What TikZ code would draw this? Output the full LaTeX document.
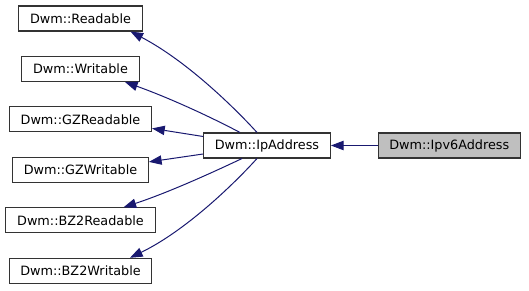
\documentclass[tikz,border=0pt]{standalone}
\usepackage{fontspec}
\setmainfont{DejaVu Sans}
\usetikzlibrary{arrows.meta, positioning, calc}
\definecolor{edgeblue}{HTML}{191970}
\definecolor{basegray}{HTML}{BFBFBF}

\begin{document}
\begin{tikzpicture}[
    x=0.75pt, y=-0.75pt,
    node distance=18.3pt,
    cls/.style={rectangle, draw=black!80, line width=0.8pt, inner xsep=8.4pt, inner ysep=0pt, minimum height=18.75pt, fill=white, font=\fontsize{9.6}{11}\selectfont},
    arrow/.style={-{Triangle[length=9.5pt, width=7pt]}, color=edgeblue, line width=0.75pt}
]
    \useasboundingbox (0,0) rectangle (529,291);

    % base classes
    \node[cls] (readable) at (80.5,18.5) {Dwm::Readable};
    \node[cls, below=of readable] (writable) {Dwm::Writable};
    \node[cls, below=of writable] (gzreadable) {Dwm::GZReadable};
    \node[cls, below=of gzreadable] (gzwritable) {Dwm::GZWritable};
    \node[cls, below=of gzwritable] (bz2readable) {Dwm::BZ2Readable};
    \node[cls, below=of bz2readable] (bz2writable) {Dwm::BZ2Writable};

    % derived classes
    \node[cls] (ipaddress) at (267,145.5) {Dwm::IpAddress};
    \node[cls, fill=basegray, right=35pt of ipaddress] (ipv6address) {Dwm::Ipv6Address};

    \draw[arrow] ($(ipaddress.north)+(-10,0)$) .. controls (232,105) and (185,60) .. ($(readable.south)+(50,0)$);
    \draw[arrow] ($(ipaddress.north)+(-27,0)$) .. controls (203,113) and (164,96) .. ($(writable.south)+(44.5,0)$);
    \draw[arrow] ($(ipaddress.west)+(0,-9)$) -- ($(gzreadable.east)+(0,9)$);
    \draw[arrow] ($(ipaddress.west)+(0,8.5)$) -- ($(gzwritable.east)+(0,-8)$);
    \draw[arrow] ($(ipaddress.south)+(-25,0)$) .. controls (203,177) and (164,194) .. ($(bz2readable.north)+(43,0)$);
    \draw[arrow] ($(ipaddress.south)+(-10,0)$) .. controls (232,186) and (185,231) .. ($(bz2writable.north)+(49.5,0)$);
    \draw[arrow] (ipv6address) -- (ipaddress);
\end{tikzpicture}
\end{document}
